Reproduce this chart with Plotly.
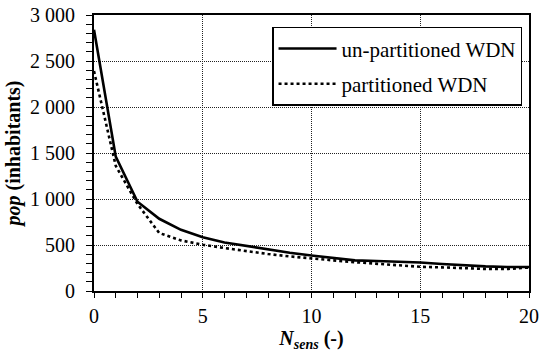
import plotly.graph_objects as go

n_sens = list(range(0, 21))
pop_unpartitioned = [2840, 1460, 970, 785, 665, 585, 528, 490, 455, 415, 385,
                     358, 333, 326, 320, 310, 293, 279, 268, 261, 261]
pop_partitioned = [2390, 1360, 945, 630, 550, 503, 467, 432, 402, 376, 351,
                   333, 313, 297, 281, 263, 257, 246, 240, 239, 255]

y_tickvals = [0, 500, 1000, 1500, 2000, 2500, 3000]
y_ticktext = ["0", "500", "1 000", "1 500", "2 000", "2 500", "3 000"]
x_tickvals = [0, 5, 10, 15, 20]

FONT = "Liberation Serif, Times New Roman, serif"

fig = go.Figure()
fig.add_trace(go.Scatter(
    x=n_sens, y=pop_unpartitioned, mode="lines", name="un-partitioned WDN",
    legendgroup="a", line=dict(color="black", width=2.6)))
fig.add_trace(go.Scatter(
    x=n_sens, y=pop_partitioned, mode="lines", name="partitioned WDN",
    legendgroup="b", line=dict(color="black", width=2.6, dash="dot")))

axis_common = dict(
    showline=True, linecolor="black", linewidth=1.8, mirror=True,
    showgrid=True, gridcolor="#222", gridwidth=1, griddash="1px,1px",
    ticks="outside", tickcolor="black", tickwidth=1,
    zeroline=False, ticklabeloverflow="allow",
    automargin=False,
    tickfont=dict(family=FONT, size=20, color="black"),
)

fig.update_xaxes(
    **axis_common,
    range=[0, 20], tickvals=x_tickvals, ticklen=5, ticklabelstandoff=1,
    minor=dict(dtick=1, ticks="outside", ticklen=5, tickcolor="black", showgrid=False),
    title=dict(text="<b><i>N</i><sub><i>sens</i></sub> (-)</b>",
               font=dict(family=FONT, size=20, color="black"), standoff=5),
)
fig.update_yaxes(
    **axis_common,
    range=[0, 3000], tickvals=y_tickvals, ticktext=y_ticktext, ticklen=6,
    ticklabelstandoff=7,
    minor=dict(dtick=100, ticks="outside", ticklen=6, tickcolor="black", showgrid=False),
    title=dict(text="<b><i>pop</i> (inhabitants)</b>",
               font=dict(family=FONT, size=20, color="black"), standoff=4),
)

fig.update_layout(
    width=550, height=361,
    margin=dict(l=94, r=21, t=15, b=70, autoexpand=False),
    plot_bgcolor="white", paper_bgcolor="white",
    font=dict(family=FONT, color="black"),
    showlegend=True,
    legend=dict(
        x=0.984, y=0.957, xanchor="right", yanchor="top",
        bordercolor="black", borderwidth=1.5, bgcolor="white",
        font=dict(family=FONT, size=21, color="black"),
        itemwidth=58, traceorder="grouped", tracegroupgap=5,
    ),
)

# remove the default page margin so the figure sits at the window's top-left
fig.write_html(
    "out.html",
    config={"displayModeBar": False},
    post_script="document.body.style.margin='0';document.body.style.overflow='hidden';",
)
